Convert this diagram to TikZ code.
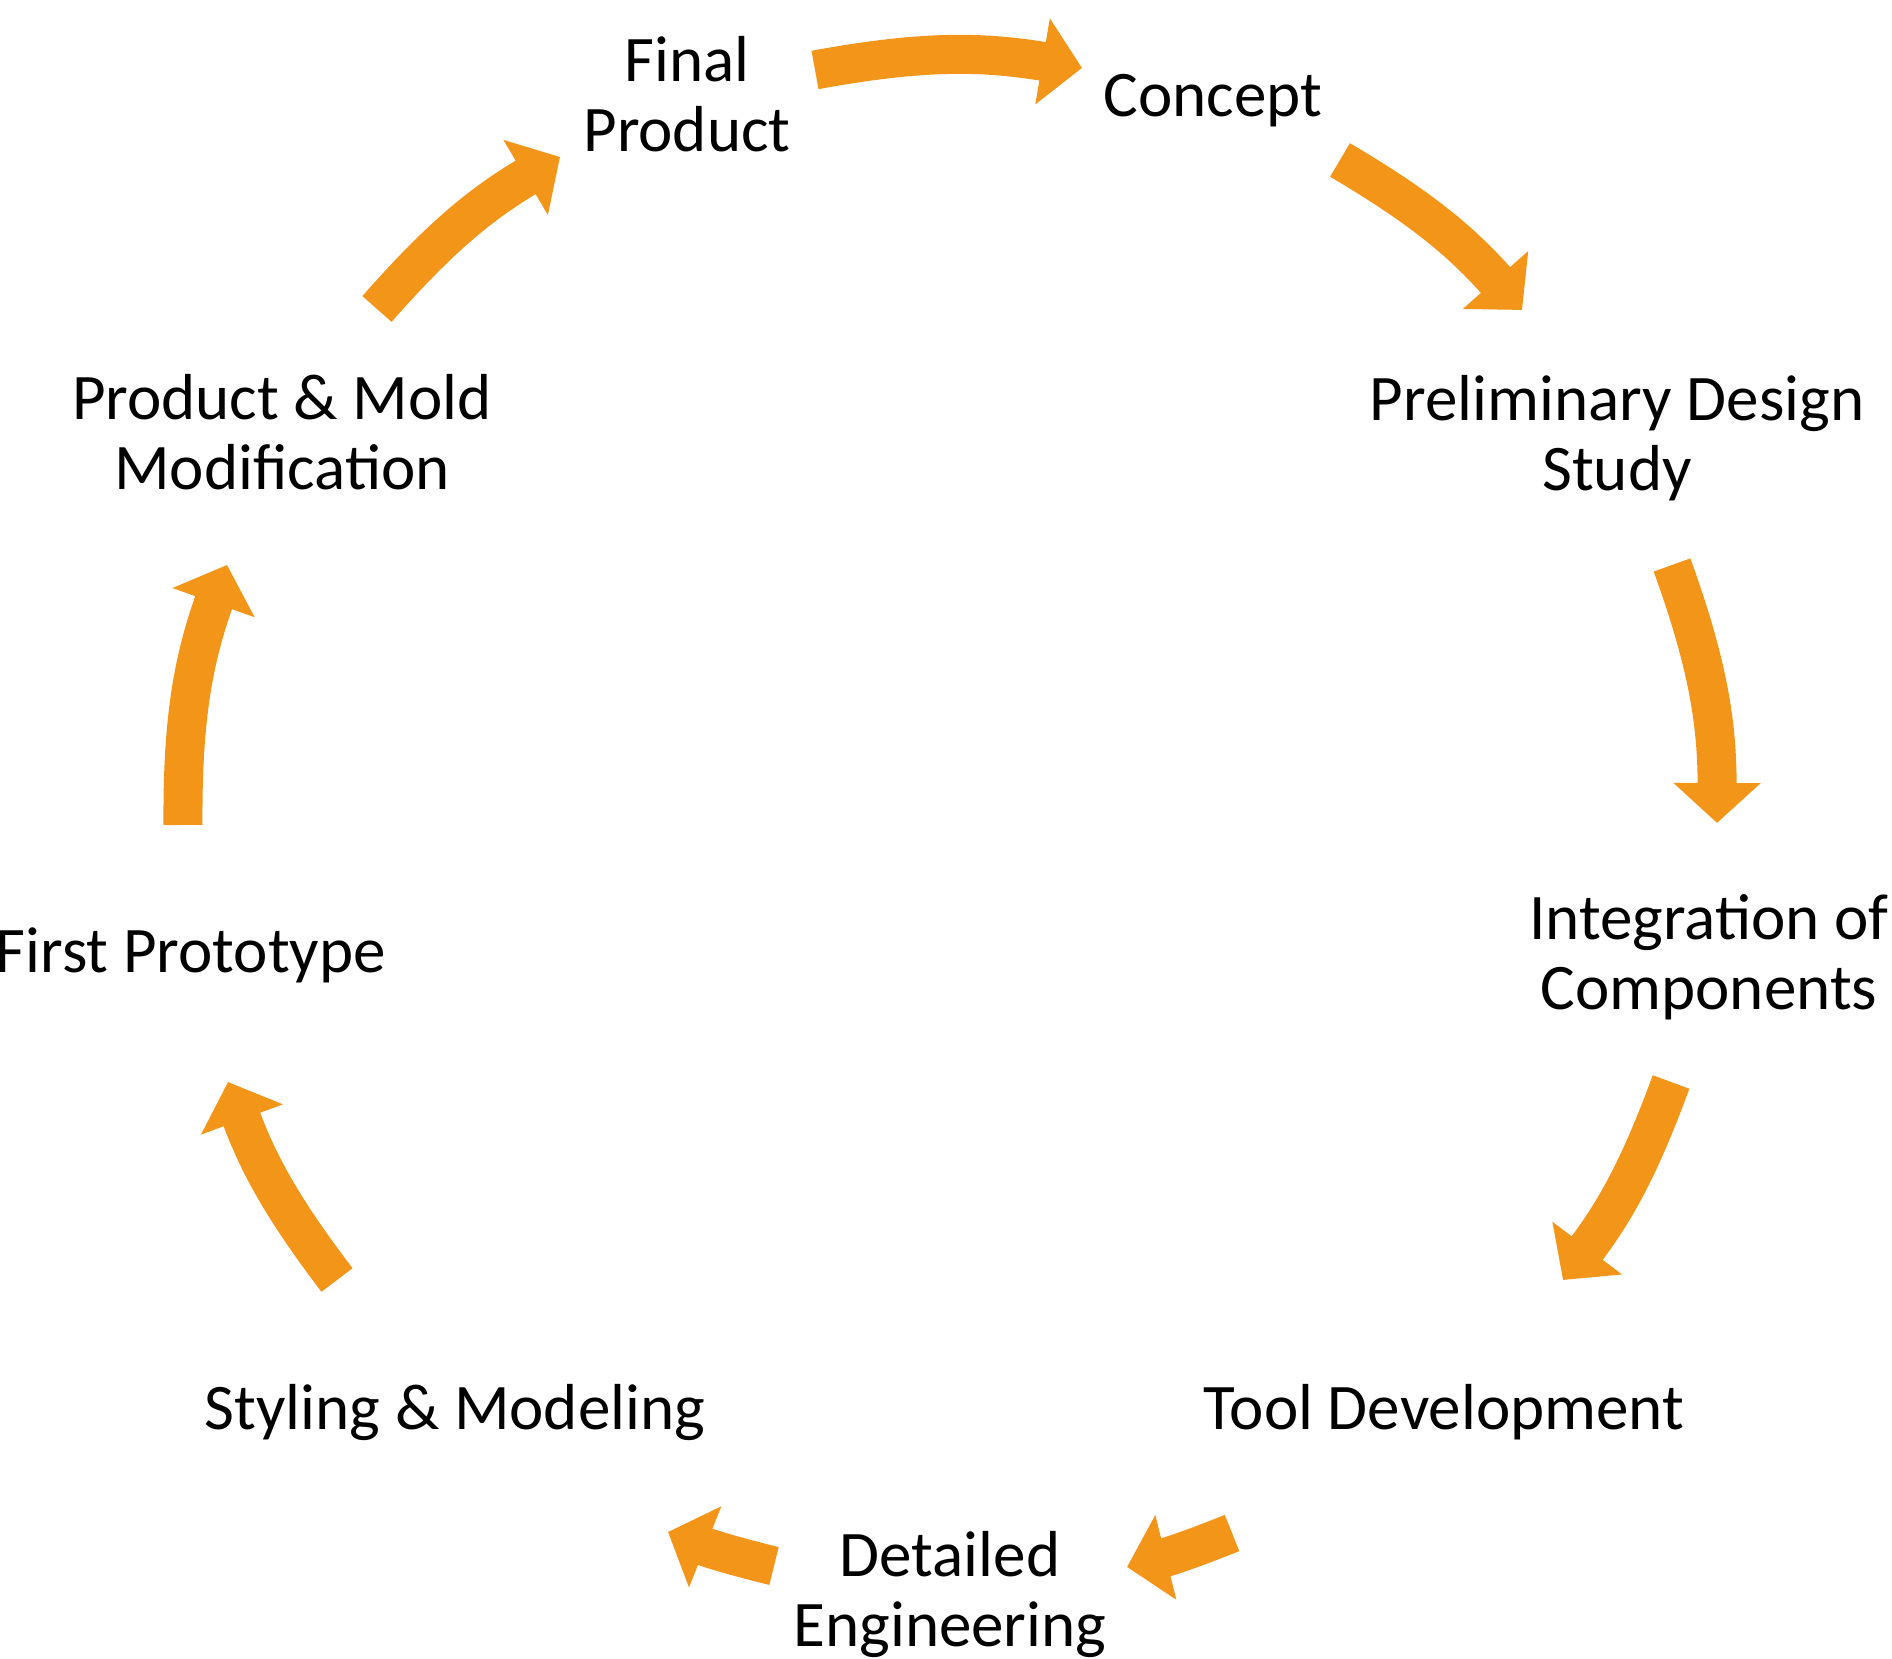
\documentclass[tikz,border=0pt]{standalone}
\usepackage{fontspec}
\setmainfont{Carlito}
\usepackage{tikz}
\usetikzlibrary{arrows.meta}
\definecolor{flow}{HTML}{F39519}

\begin{document}
\begin{tikzpicture}[
  lbl/.style={inner sep=0pt,align=center,font=\fontsize{18.5}{19.9}\selectfont},
  arr/.style={-{Triangle[width=8.5mm,length=4mm]},line width=3.9mm,draw=flow},
]
\useasboundingbox (0,0) rectangle (18.92,16.58);

% stages
\node[lbl] (final) at (6.87,15.64) {Final\\Product};
\node[lbl,anchor=base] (concept) at (12.13,15.41) {Concept};
\node[lbl] (prelim) at (16.17,12.195) {Preliminary Design\\Study};
\node[lbl] (integ) at (17.09,7.005) {Integration of\\Components};
\node[lbl,anchor=base] (tool) at (14.44,2.28) {Tool Development};
\node[lbl] (detail) at (9.50,0.635) {Detailed\\Engineering};
\node[lbl,anchor=base] (styling) at (4.55,2.28) {Styling \& Modeling};
\node[lbl,anchor=base west] (proto) at (-0.05,6.85) {First Prototype};
\node[lbl] (modif) at (2.82,12.26) {Product \& Mold\\Modification};

% arrow ends
\coordinate (t1) at (8.15,15.88);  \coordinate (h1) at (10.82,15.90);
\coordinate (t2) at (13.40,14.98); \coordinate (h2) at (15.22,13.48);
\coordinate (t3) at (16.72,10.93); \coordinate (h3) at (17.17,8.35);
\coordinate (t4) at (16.71,5.76);  \coordinate (h4) at (15.63,3.78);
\coordinate (t5) at (12.32,1.25);  \coordinate (h5) at (11.27,0.91);
\coordinate (t6) at (7.74,0.92);   \coordinate (h6) at (6.68,1.26);
\coordinate (t7) at (3.37,3.78);   \coordinate (h7) at (2.28,5.76);
\coordinate (t8) at (1.83,8.33);   \coordinate (h8) at (2.27,10.93);
\coordinate (t9) at (3.77,13.49);  \coordinate (h9) at (5.60,15.01);

\draw[arr] (t1) to[bend left=10] (h1);
\draw[arr] (t2) to[bend left=9] (h2);
\draw[arr] (t3) to[bend left=10] (h3);
\draw[arr] (t4) to[bend left=8.5] (h4);
\draw[arr] (t5) to[bend left=4] (h5);
\draw[arr] (t6) to[bend left=4] (h6);
\draw[arr] (t7) to[bend left=8.5] (h7);
\draw[arr] (t8) to[bend left=10] (h8);
\draw[arr] (t9) to[bend left=9] (h9);
\end{tikzpicture}
\end{document}
